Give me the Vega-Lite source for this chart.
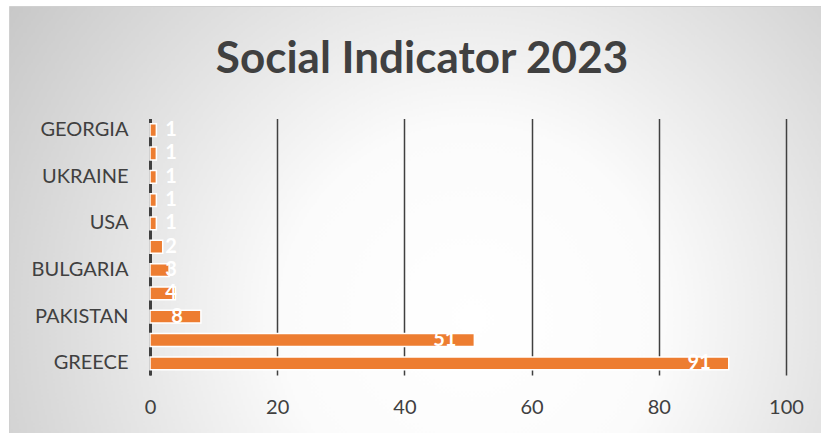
{
  "$schema": "https://vega.github.io/schema/vega-lite/v6.json",
  "width": 812,
  "height": 427,
  "autosize": {"type": "none"},
  "padding": {"left": 9, "top": 6, "right": 0, "bottom": 0},
  "background": "#ffffff",
  "title": {
    "text": "Social Indicator 2023",
    "font": "Lato",
    "fontSize": 44,
    "fontWeight": "bold",
    "color": "#404040",
    "anchor": "middle",
    "frame": "group",
    "offset": -76,
    "dx": 7
  },
  "config": {
    "view": {
      "fill": {
        "gradient": "radial",
        "x1": 0.57, "y1": 0.62, "r1": 0,
        "x2": 0.57, "y2": 0.62, "r2": 0.78,
        "stops": [
          {"offset": 0, "color": "#ffffff"},
          {"offset": 0.3, "color": "#fbfbfb"},
          {"offset": 1, "color": "#bdbdbd"}
        ]
      },
      "stroke": "#d0d0d0",
      "strokeWidth": 1
    }
  },
  "data": {
    "values": [
      {"country": "GEORGIA", "value": 1},
      {"country": "Other 1", "value": 1},
      {"country": "UKRAINE", "value": 1},
      {"country": "Other 2", "value": 1},
      {"country": "USA", "value": 1},
      {"country": "Other 3", "value": 2},
      {"country": "BULGARIA", "value": 3},
      {"country": "Other 4", "value": 4},
      {"country": "PAKISTAN", "value": 8},
      {"country": "Other 5", "value": 51},
      {"country": "GREECE", "value": 91}
    ]
  },
  "encoding": {
    "y": {
      "field": "country",
      "type": "nominal",
      "sort": null,
      "scale": {"range": [112.5, 369], "paddingInner": 0.45, "paddingOuter": 0.225},
      "axis": {
        "title": null,
        "orient": "left",
        "offset": -141,
        "values": ["GEORGIA", "UKRAINE", "USA", "BULGARIA", "PAKISTAN", "GREECE"],
        "domain": true,
        "domainColor": "#404040",
        "domainWidth": 3,
        "ticks": false,
        "grid": false,
        "labelPadding": 22,
        "labelFont": "Lato",
        "labelFontSize": 20,
        "labelColor": "#404040"
      }
    },
    "x": {
      "field": "value",
      "type": "quantitative",
      "scale": {"domain": [0, 100], "range": [141, 777], "nice": false},
      "axis": {
        "title": null,
        "orient": "top",
        "offset": -401,
        "values": [0, 20, 40, 60, 80, 100],
        "domain": false,
        "ticks": false,
        "grid": true,
        "gridColor": "#404040",
        "gridWidth": 1.5,
        "labelPadding": 0,
        "labelFlush": false,
        "labelBaseline": "middle",
        "labelFont": "Lato",
        "labelFontSize": 20,
        "labelColor": "#404040"
      }
    }
  },
  "layer": [
    {
      "mark": {"type": "bar", "color": "#ED7D31", "stroke": "#ffffff", "strokeWidth": 1.5}
    },
    {
      "transform": [{"filter": "datum.value >= 8"}],
      "mark": {"type": "text", "align": "right", "baseline": "middle", "dx": -18, "font": "Lato", "fontSize": 20, "fontWeight": "bold", "color": "#ffffff"},
      "encoding": {"text": {"field": "value", "type": "quantitative"}}
    },
    {
      "transform": [{"filter": "datum.value < 8"}],
      "mark": {"type": "text", "align": "center", "baseline": "middle", "font": "Lato", "fontSize": 20, "fontWeight": "bold", "color": "#ffffff"},
      "encoding": {
        "x": {"datum": 3.3, "type": "quantitative"},
        "text": {"field": "value", "type": "quantitative"}
      }
    }
  ]
}
